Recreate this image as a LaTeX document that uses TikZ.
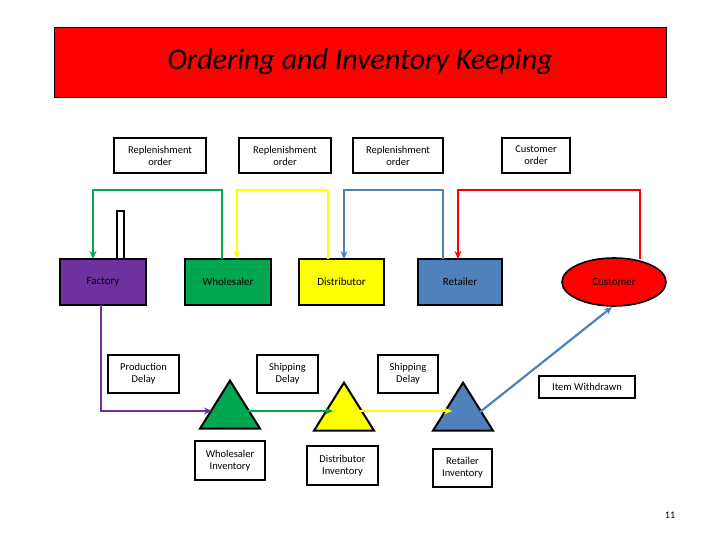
\documentclass[tikz,border=0pt]{standalone}
\usepackage{fontspec}
\setmainfont{Carlito}
\usetikzlibrary{arrows.meta,shapes.geometric}
\definecolor{fpurple}{HTML}{7030A0}
\definecolor{fgreen}{HTML}{00A650}
\definecolor{fyellow}{HTML}{FFFF00}
\definecolor{fblue}{HTML}{4F81BD}
\definecolor{fred}{HTML}{FF0000}
\begin{document}
\begin{tikzpicture}[x=1pt,y=-1pt,
  lbl/.style={draw,line width=1.6pt,fill=white,align=center,font=\fontsize{10.5}{12}\selectfont,inner sep=0pt},
  ent/.style={draw,line width=1.6pt,font=\fontsize{11}{13}\selectfont,minimum width=86pt,minimum height=46pt,inner sep=0pt},
  tri/.style={draw,line width=2pt,isosceles triangle,isosceles triangle apex angle=64,shape border rotate=90,minimum height=48pt,inner sep=0pt},
  con/.style={line width=2.2pt,-{Stealth[length=8pt,width=7pt]}}]
\useasboundingbox (0,0) rectangle (720,540);
\node[draw,fill=fred,minimum width=612pt,minimum height=70pt,font=\itshape\fontsize{30}{34}\selectfont] (title) at (360,62) {Ordering and Inventory Keeping};
\node[lbl,minimum width=92pt,minimum height=35pt] (r1) at (160,155.5) {Replenishment\\order};
\node[lbl,minimum width=92pt,minimum height=35pt] (r2) at (285,155.5) {Replenishment\\order};
\node[lbl,minimum width=90pt,minimum height=35pt] (r3) at (398,155.5) {Replenishment\\order};
\node[lbl,minimum width=68pt,minimum height=35pt] (co) at (536,155.5) {Customer\\order};
\node[draw,line width=1.6pt,minimum width=7pt,minimum height=48pt,inner sep=0pt] (chim) at (120.5,235) {};
\node[ent,fill=fpurple] (fac) at (103,282) {Factory};
\node[ent,fill=fgreen] (who) at (228,282) {Wholesaler};
\node[ent,fill=fyellow,minimum width=85pt] (dis) at (341.5,282) {Distributor};
\node[ent,fill=fblue,minimum width=84pt] (ret) at (460,282) {Retailer};
\node[ellipse,draw,line width=1.6pt,fill=fred,minimum width=104pt,minimum height=48pt,font=\fontsize{11}{13}\selectfont] (cus) at (614,282) {Customer};
\node[tri,fill=fgreen] (tw) at (230,412) {};
\node[tri,fill=fyellow] (td) at (344,414) {};
\node[tri,fill=fblue] (tr) at (463,414) {};
\node[lbl,minimum width=71pt,minimum height=38pt] (pd) at (143.5,374) {Production\\Delay};
\node[lbl,minimum width=61pt,minimum height=38pt] (sd1) at (287.5,374) {Shipping\\Delay};
\node[lbl,minimum width=60pt,minimum height=38pt] (sd2) at (408,374) {Shipping\\Delay};
\node[lbl,minimum width=96pt,minimum height=22pt] (iw) at (587,387) {Item Withdrawn};
\node[lbl,minimum width=70pt,minimum height=39pt] (wi) at (230,460.5) {Wholesaler\\Inventory};
\node[lbl,minimum width=71pt,minimum height=39pt] (di) at (342.5,465.5) {Distributor\\Inventory};
\node[lbl,minimum width=59pt,minimum height=38pt] (ri) at (462.5,468) {Retailer\\Inventory};
\node[font=\fontsize{10}{12}\selectfont] (pg) at (670,515) {11};
\draw[con,fgreen] (222,259) -- (222,190) -- (93,190) -- (93,259);
\draw[con,fyellow] (328,259) -- (328,190) -- (237,190) -- (237,259);
\draw[con,fblue] (443,259) -- (443,190) -- (344,190) -- (344,259);
\draw[con,fred] (640,259) -- (640,190) -- (458,190) -- (458,259);
\draw[con,fpurple] (101,305) -- (101,411) -- (212,411);
\draw[con,fgreen] (246,411) -- (333,411);
\draw[con,fyellow] (358,411) -- (452,411);
\draw[con,fblue] (480,412) -- (612,307);
\end{tikzpicture}
\end{document}
